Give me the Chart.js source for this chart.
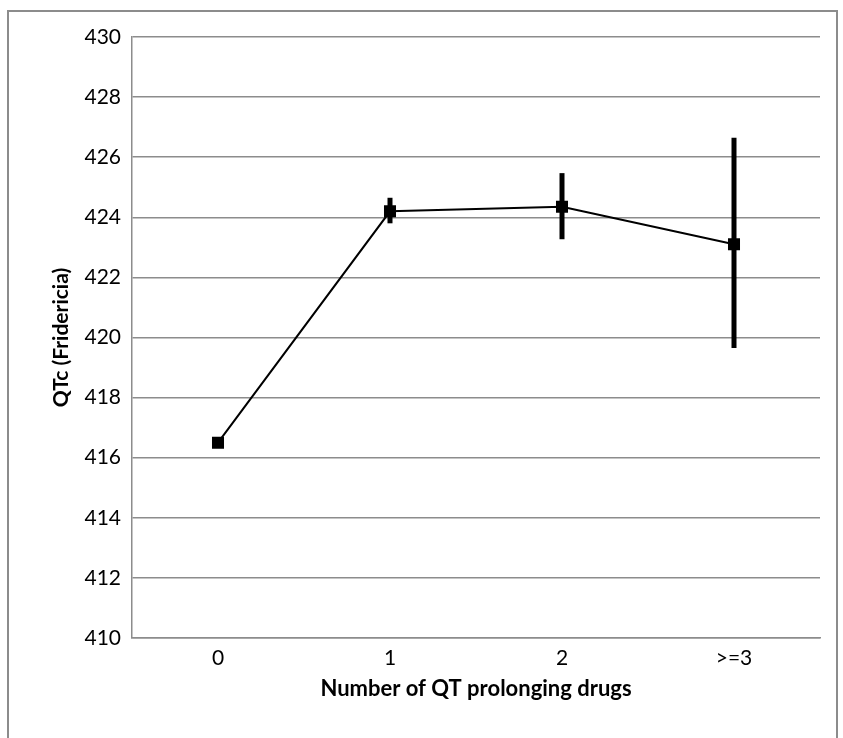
<!DOCTYPE html>
<html>
<head>
<meta charset="utf-8">
<script src="https://cdn.jsdelivr.net/npm/chart.js@4.4.0/dist/chart.umd.min.js"></script>
<style>
  html, body { margin: 0; padding: 0; background: #fff; }
  #wrap { position: relative; width: 843px; height: 738px; overflow: hidden; }
  #frame { position: absolute; left: 7px; top: 10px; width: 831px; height: 760px;
           border: 2px solid #8c8c8c; box-sizing: border-box; pointer-events: none; }
  canvas { position: absolute; left: 0; top: 0; }
</style>
</head>
<body>
<div id="wrap">
  <canvas id="c" width="843" height="738"></canvas>
  <div id="frame"></div>
</div>
<script>
// Mean QTc by number of QT prolonging drugs, with error bar ends
const categories = ['0', '1', '2', '>=3'];
const qtcMean = [416.5, 424.2, 424.35, 423.1];
const errLow  = [416.5, 423.8, 423.27, 419.65];
const errHigh = [416.5, 424.65, 425.47, 426.65];
const yTicks  = [410, 412, 414, 416, 418, 420, 422, 424, 426, 428, 430];

const FONT = 'Lato, "Open Sans", sans-serif';

// vertical error bars drawn through the chart's own scales
const errorBars = {
  id: 'errorBars',
  afterDatasetsDraw(chart) {
    const { ctx, scales: { x, y } } = chart;
    ctx.save();
    ctx.strokeStyle = '#000';
    ctx.lineWidth = 5;
    ctx.lineCap = 'butt';
    categories.forEach((c, i) => {
      if (errHigh[i] === errLow[i]) return;
      const px = x.getPixelForValue(i);
      ctx.beginPath();
      ctx.moveTo(px, y.getPixelForValue(errLow[i]));
      ctx.lineTo(px, y.getPixelForValue(errHigh[i]));
      ctx.stroke();
    });
    ctx.restore();
  }
};

new Chart(document.getElementById('c'), {
  type: 'line',
  data: {
    labels: categories,
    datasets: [{
      data: qtcMean,
      borderColor: '#000',
      borderWidth: 2,
      backgroundColor: '#000',
      pointStyle: 'rect',
      pointRadius: 8.5,
      pointBorderWidth: 0,
      pointBackgroundColor: '#000',
      tension: 0
    }]
  },
  options: {
    responsive: false,
    animation: false,
    devicePixelRatio: 1,
    layout: { padding: { left: 45, right: 23, top: 37, bottom: 32 } },
    plugins: { legend: { display: false }, tooltip: { enabled: false } },
    scales: {
      x: {
        offset: true,
        grid: { display: false, drawTicks: false },
        border: { color: '#8c8c8c', width: 1.5 },
        ticks: { color: '#000', font: { family: FONT, size: 21 }, padding: 8 },
        title: { display: true, text: 'Number of QT prolonging drugs', color: '#000',
                 font: { family: FONT, size: 22, weight: 'bold' }, padding: { top: 4, bottom: 4 } },
        afterFit: s => { s.height = 68; }
      },
      y: {
        min: 410, max: 430,
        afterBuildTicks: s => { s.ticks = yTicks.map(v => ({ value: v })); },
        grid: { color: '#8c8c8c', lineWidth: 1.5, drawTicks: false },
        border: { color: '#8c8c8c', width: 1.5 },
        ticks: { color: '#000', font: { family: FONT, size: 21 }, padding: 11 },
        title: { display: true, text: 'QTc (Fridericia)', color: '#000',
                 font: { family: FONT, size: 21, weight: 'bold' }, padding: { top: 4, bottom: 4 } },
        afterFit: s => { s.width = 87; }
      }
    }
  },
  plugins: [errorBars]
});
</script>
</body>
</html>
